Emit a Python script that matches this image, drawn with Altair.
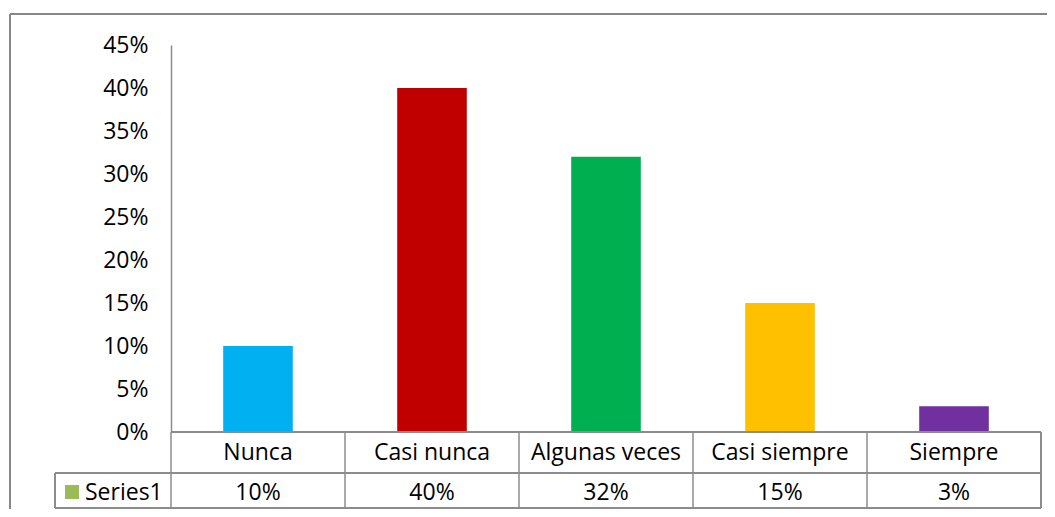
import altair as alt
import pandas as pd

categories = ["Nunca", "Casi nunca", "Algunas veces", "Casi siempre", "Siempre"]
values = [0.10, 0.40, 0.32, 0.15, 0.03]
colors = ["#00B0F0", "#C00000", "#00B050", "#FFC000", "#7030A0"]
series_name = ["Series1"]
y_ticks = [0, 0.05, 0.10, 0.15, 0.20, 0.25, 0.30, 0.35, 0.40, 0.45]

df = pd.DataFrame({"cat": categories, "val": values, "color": colors})
sdf = pd.DataFrame({"name": series_name})

FONT = "Open Sans"
FS = 23
LINE = "#8C8C8C"

W, H = 870, 387

xenc = alt.X("cat:N", sort=categories,
             scale=alt.Scale(paddingInner=0, paddingOuter=0), axis=None)

base = alt.Chart(df)

bars = base.mark_bar(width=alt.RelativeBandSize(0.4)).encode(
    x=xenc,
    y=alt.Y("val:Q", scale=alt.Scale(domain=[0, 0.45], nice=False),
            axis=alt.Axis(format=".0%", values=y_ticks, grid=False, ticks=False,
                          domainColor=LINE, domainWidth=1.5, title=None,
                          labelFont=FONT, labelFontSize=FS, labelColor="black",
                          labelPadding=23)),
    color=alt.Color("color:N", scale=None),
)

cat_text = base.mark_text(font=FONT, fontSize=FS, color="black", baseline="middle").encode(
    x=xenc, y=alt.value(408), text="cat:N")

val_text = base.mark_text(font=FONT, fontSize=FS, color="black", baseline="middle").encode(
    x=xenc, y=alt.value(448), text=alt.Text("val:Q", format=".0%"))

vlines = base.mark_rule(color=LINE, strokeWidth=1.5).encode(
    x=alt.X("cat:N", sort=categories, bandPosition=0,
            scale=alt.Scale(paddingInner=0, paddingOuter=0), axis=None),
    y=alt.value(H), y2=alt.value(463))

right_line = base.mark_rule(color=LINE, strokeWidth=1.5).encode(
    x=alt.value(W), y=alt.value(H), y2=alt.value(463))

h_top = base.mark_rule(color=LINE, strokeWidth=1.5).encode(
    x=alt.value(0), x2=alt.value(W), y=alt.value(H))
h_mid = base.mark_rule(color=LINE, strokeWidth=1.5).encode(
    x=alt.value(-116), x2=alt.value(W), y=alt.value(428))
h_bot = base.mark_rule(color=LINE, strokeWidth=1.5).encode(
    x=alt.value(-116), x2=alt.value(W), y=alt.value(463))
left_cell = base.mark_rule(color=LINE, strokeWidth=1.5).encode(
    x=alt.value(-116), y=alt.value(428), y2=alt.value(463))

border_top = base.mark_rule(color="#878787", strokeWidth=2).encode(
    x=alt.value(-161), x2=alt.value(900), y=alt.value(-31))
border_left = base.mark_rule(color="#878787", strokeWidth=2).encode(
    x=alt.value(-161), y=alt.value(-31), y2=alt.value(480))

sbase = alt.Chart(sdf)
legend_sq = sbase.mark_square(size=196, color="#9BBB59", opacity=1, filled=True).encode(
    x=alt.value(-99), y=alt.value(447))
legend_txt = sbase.mark_text(font=FONT, fontSize=FS, color="black", align="left",
                             baseline="middle").encode(
    x=alt.value(-86), y=alt.value(448), text="name:N")

chart = alt.layer(
    bars, cat_text, val_text, vlines, right_line, h_top, h_mid, h_bot, left_cell,
    border_top, border_left, legend_sq, legend_txt
).properties(
    width=W, height=H,
    padding={"left": 163, "top": 37, "right": 6, "bottom": 77},
    autosize=alt.AutoSizeParams(type="none"),
    background="white",
).configure_view(stroke=None)

chart.save("out.html", embed_options={"renderer": "svg", "actions": False})
